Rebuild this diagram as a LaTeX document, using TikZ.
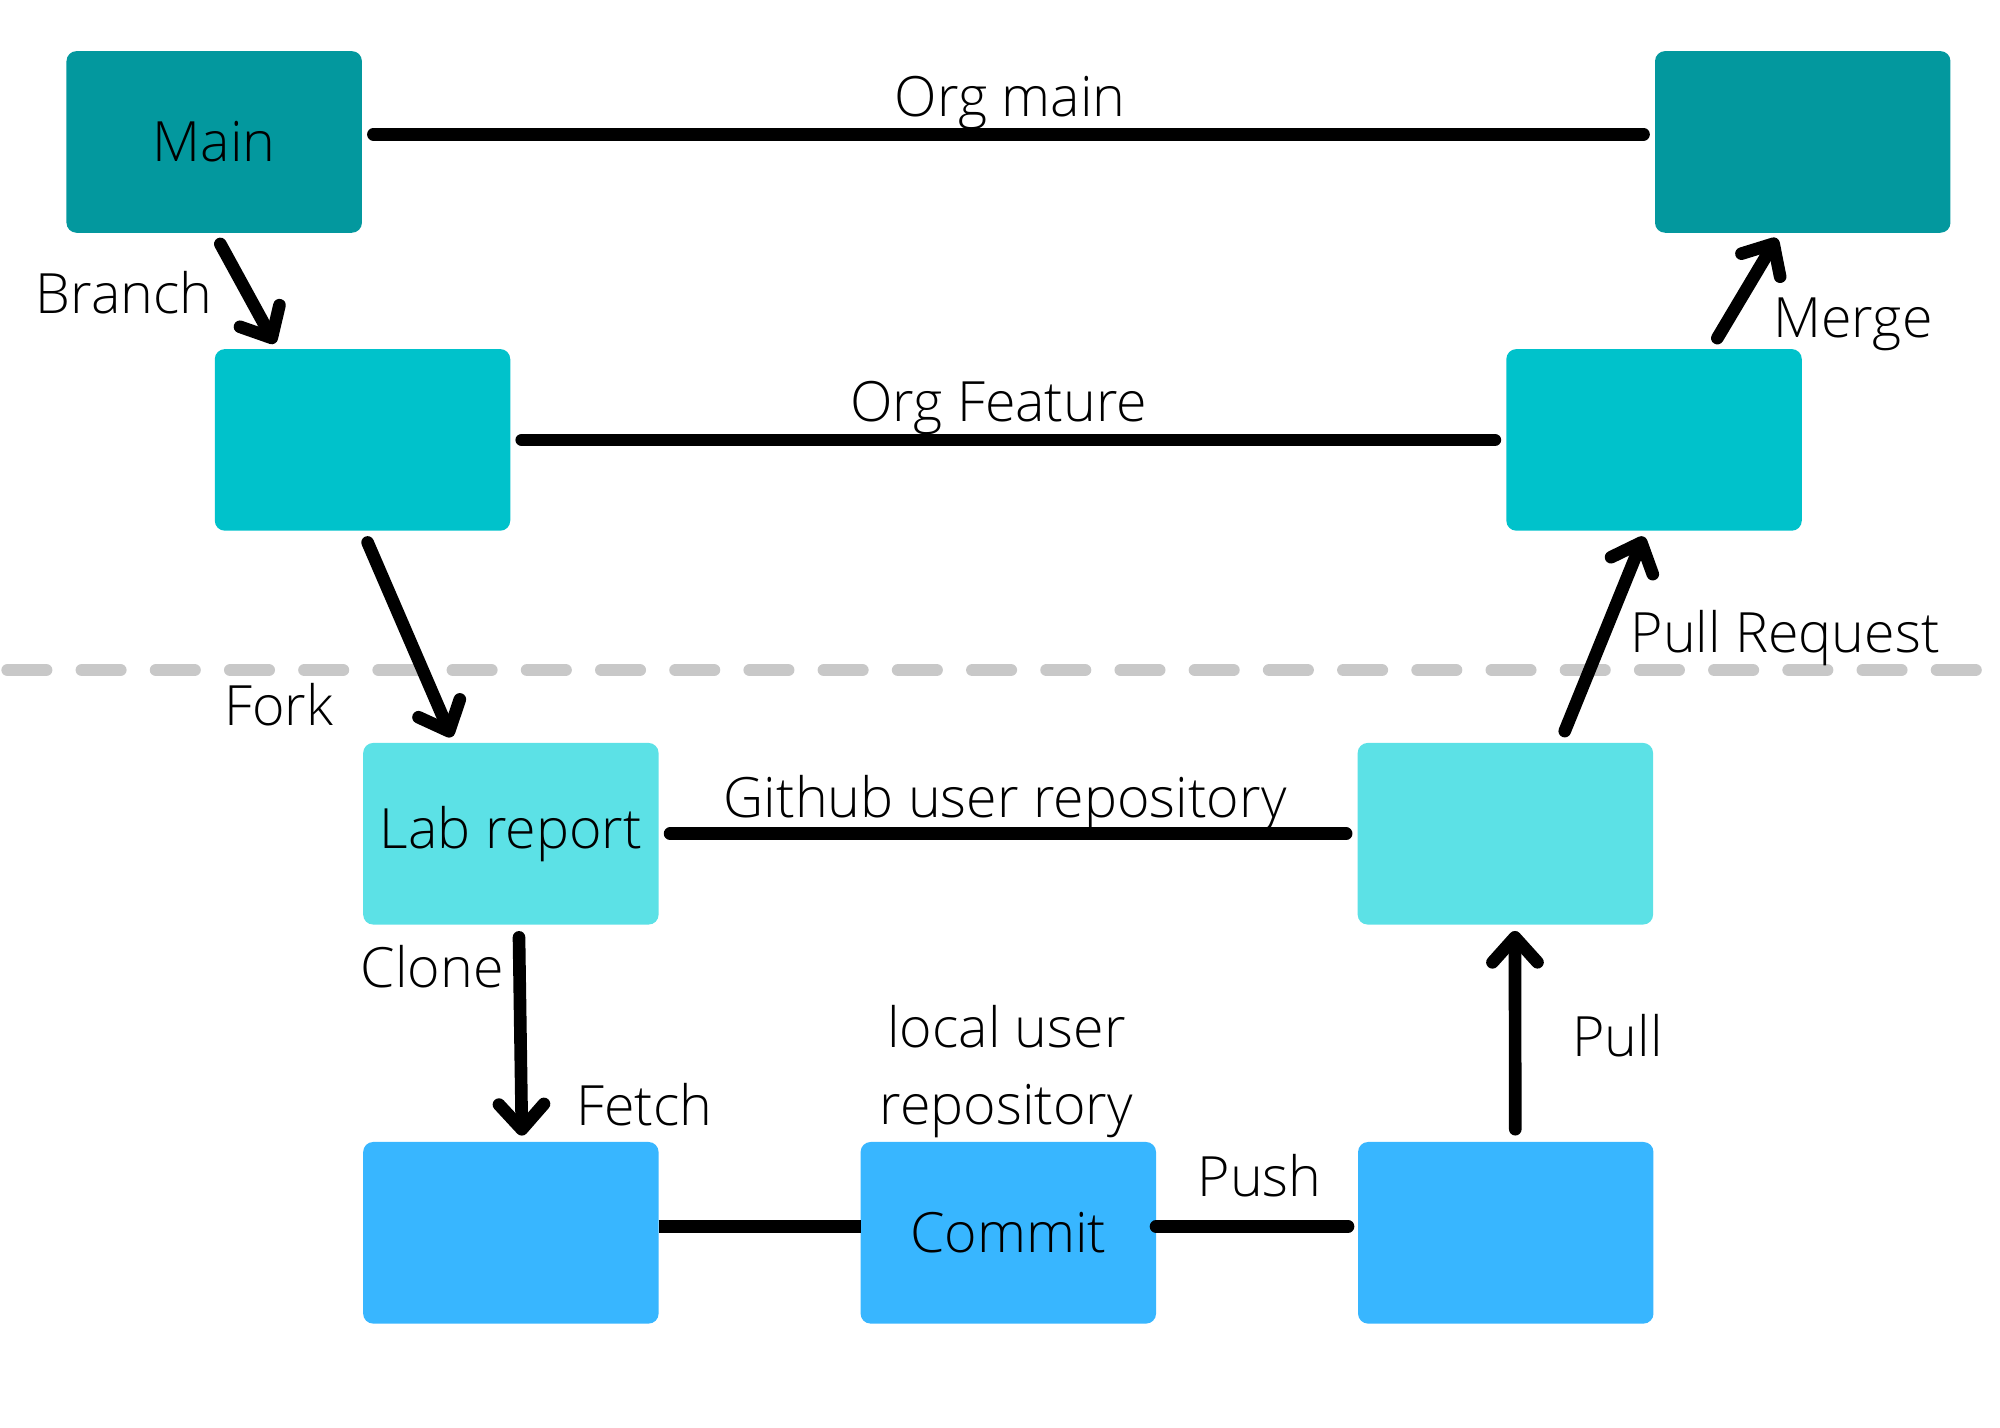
\documentclass[tikz,border=0pt]{standalone}
\usepackage{fontspec}
\setmainfont{Open Sans}[UprightFont=* Light]
\usetikzlibrary{positioning, arrows.meta}
\definecolor{gitTeal}{HTML}{03989E}
\definecolor{gitCyan}{HTML}{00C2CB}
\definecolor{gitAqua}{HTML}{5CE1E6}
\definecolor{gitSky}{HTML}{38B6FF}
\definecolor{gitDash}{HTML}{C8C8C8}
\tikzset{
    base/.style={
        font=\fontsize{15.8}{21.8}\selectfont,
        align=center,
        text=black
    },
    repo/.style={
        base,
        rectangle,
        rounded corners=1mm,
        minimum width=2.954cm,
        minimum height=1.816cm,
        inner sep=0pt,
        outer sep=0pt
    },
    link/.style={
        line width=3.6pt,
        line cap=round,
        color=black,
        shorten <=0.115cm,
        shorten >=0.115cm
    },
    flow/.style={
        line width=3.6pt,
        line cap=round,
        color=black,
        -{Straight Barb[length=0.25cm, width=0.45cm, round]},
        shorten <=0.128cm,
        shorten >=0.064cm
    },
    note/.style={
        base,
        inner sep=0pt,
        anchor=base
    },
    divider/.style={
        color=gitDash,
        line width=3.6pt,
        line cap=round,
        dash pattern=on 0.384cm off 0.358cm
    }
}

\begin{document}
\begin{tikzpicture}[x=0.012788cm, y=-0.012788cm]
  \useasboundingbox (0,0) rectangle (1564,1116);

  % Organisation repository
  \node[repo, fill=gitTeal] (main) at (167.5,111) {Main};
  \node[repo, fill=gitTeal, right=12.93cm of main] (mainR) {};
  \node[repo, fill=gitCyan] (featL) at (283.5,344) {};
  \node[repo, fill=gitCyan, right=9.96cm of featL] (featR) {};

  % Divider
  \coordinate (divA) at (6,524);
  \coordinate (divB) at (1560,524);
  \draw[divider] (divA) -- (divB);

  % User repositories
  \node[repo, fill=gitAqua] (lab) at (399.5,652) {Lab report};
  \node[repo, fill=gitAqua, right=6.99cm of lab] (ghR) {};
  \node[repo, fill=gitSky, below=2.174cm of lab] (local) {};
  \node[repo, fill=gitSky, right=2.02cm of local] (commit) {Commit};
  \node[repo, fill=gitSky, right=2.02cm of commit] (localR) {};

  % Timelines
  \draw[link] ([yshift=0.077cm]main.east) -- ([yshift=0.077cm]mainR.west);
  \draw[link] (featL.east) -- (featR.west);
  \draw[link] (lab.east) -- (ghR.west);
  \draw[link, line cap=butt, shorten <=0pt, shorten >=0pt] ([yshift=0.064cm]local.east) -- ([yshift=0.064cm]commit.west);
  \draw[link, shorten <=0pt, shorten >=0.1cm] ([yshift=0.064cm]commit.east) -- ([yshift=0.064cm]localR.west);

  % Actions
  \draw[flow] (main.south) -- (featL.133);
  \draw[flow] (featL.south) -- (lab.122);
  \draw[flow] (lab.-85.6) -- (local.83.2);
  \draw[flow] (localR.84.8) -- (ghR.-84.8);
  \draw[flow] (ghR.59.7) -- (featR.-95.2);
  \draw[flow] (featR.58.5) -- (mainR.-104.6);

  % Labels
  \node[note] (orgMain) at (790,91) {Org main};
  \node[note] (orgFeat) at (781,330) {Org Feature};
  \node[note] (ghUser) at (786,639) {Github user repository};
  \node[base, inner sep=0pt] (localUser) at (787,838) {local user\\repository};
  \node[note] (branch) at (97,245) {Branch};
  \node[note] (merge) at (1449,264) {Merge};
  \node[note] (pullReq) at (1396,510) {Pull Request};
  \node[note] (fork) at (218,567) {Fork};
  \node[note] (clone) at (338,772) {Clone};
  \node[note] (fetch) at (504,880) {Fetch};
  \node[note] (pull) at (1265,826) {Pull};
  \node[note] (push) at (985,936) {Push};
\end{tikzpicture}
\end{document}
